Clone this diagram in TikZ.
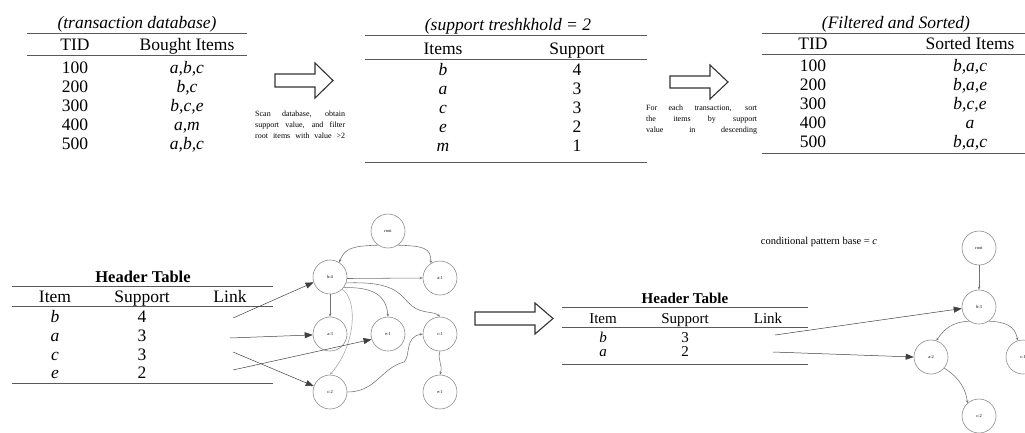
\documentclass[tikz,border=0pt]{standalone}
\usepackage{fontspec}
\setmainfont{Liberation Serif}
\usetikzlibrary{arrows.meta}
\begin{document}
\begin{tikzpicture}[x=1pt,y=-1pt,
  rule/.style={draw=black!65, line width=0.9pt},
  tb/.style={font=\fontsize{17.5}{19}\selectfont, inner sep=0pt, anchor=base},
  tbs/.style={font=\fontsize{15}{17}\selectfont, inner sep=0pt, anchor=base},
  it/.style={font=\fontsize{17.5}{19}\selectfont\itshape, inner sep=0pt, anchor=base},
  its/.style={font=\fontsize{15}{17}\selectfont\itshape, inner sep=0pt, anchor=base},
  blockarrow/.style={draw=black!80, line width=1.1pt, fill=white},
  note/.style={font=\fontsize{8}{10.8}\selectfont, inner sep=0pt, align=left, anchor=north west},
  tn/.style={circle, draw=black!45, line width=0.6pt, minimum size=34pt, inner sep=0pt, font=\fontsize{4.5}{5}\selectfont},
  te/.style={draw=black!55, line width=0.55pt, -{Stealth[length=3pt,width=2.5pt]}},
  link/.style={draw=black!75, line width=0.5pt, -{Triangle[length=8pt,width=6pt]}},
]
\useasboundingbox (0,0) rectangle (1025,432);

% ---------- Table 1 ----------
\node[it] (t1t) at (137,28) {(transaction database)};
\draw[rule] (27,33) -- (247,33);
\node[tb] (t1h1) at (75,50) {TID};
\node[tb] (t1h2) at (187,50) {Bought Items};
\draw[rule] (27,55) -- (247,55);
\node[tb] (t1r1a) at (75,73) {100};  \node[it] (t1r1b) at (187,73) {a,b,c};
\node[tb] (t1r2a) at (75,92) {200};  \node[it] (t1r2b) at (187,92) {b,c};
\node[tb] (t1r3a) at (75,111) {300}; \node[it] (t1r3b) at (187,111) {b,c,e};
\node[tb] (t1r4a) at (75,130) {400}; \node[it] (t1r4b) at (187,130) {a,m};
\node[tb] (t1r5a) at (75,149) {500}; \node[it] (t1r5b) at (187,149) {a,b,c};

% arrow 1
\draw[blockarrow] (275,74) -- (315,74) -- (315,63) -- (333,80.5) -- (315,98) -- (315,87) -- (275,87) -- cycle;
\node[note] (n1) at (255,111) {\makebox[90pt][s]{Scan database, obtain}\\
\makebox[90pt][s]{support value, and filter}\\
\makebox[90pt][s]{root items with value >2}};

% ---------- Table 2 ----------
\node[it] (t2t) at (508,30) {(support treshkhold = 2};
\draw[rule] (365,35) -- (647,35);
\node[tb] (t2h1) at (443,54) {Items};
\node[tb] (t2h2) at (577,54) {Support};
\draw[rule] (365,59) -- (647,59);
\node[it] (t2r1a) at (443,75) {b};  \node[tb] (t2r1b) at (577,75) {4};
\node[it] (t2r2a) at (443,94) {a};  \node[tb] (t2r2b) at (577,94) {3};
\node[it] (t2r3a) at (443,113) {c}; \node[tb] (t2r3b) at (577,113) {3};
\node[it] (t2r4a) at (443,132) {e}; \node[tb] (t2r4b) at (577,132) {2};
\node[it] (t2r5a) at (443,151) {m}; \node[tb] (t2r5b) at (577,151) {1};
\draw[rule] (365,162) -- (647,162);

% arrow 2
\draw[blockarrow] (670,76) -- (710,76) -- (710,65) -- (728,82) -- (710,99) -- (710,88) -- (670,88) -- cycle;
\node[note] (n2) at (646,105) {\makebox[111pt][s]{For each transaction, sort}\\
\makebox[111pt][s]{the items by support}\\
\makebox[111pt][s]{value in descending}};

% ---------- Table 3 ----------
\node[it] (t3t) at (896,28) {(Filtered and Sorted)};
\draw[rule] (762,33) -- (1025,33);
\node[tb] (t3h1) at (813,49) {TID};
\node[tb] (t3h2) at (970,49) {Sorted Items};
\draw[rule] (762,54) -- (1025,54);
\node[tb] (t3r1a) at (813,71) {100};  \node[it] (t3r1b) at (970,71) {b,a,c};
\node[tb] (t3r2a) at (813,90) {200};  \node[it] (t3r2b) at (970,90) {b,a,e};
\node[tb] (t3r3a) at (813,109) {300}; \node[it] (t3r3b) at (970,109) {b,c,e};
\node[tb] (t3r4a) at (813,128) {400}; \node[it] (t3r4b) at (970,128) {a};
\node[tb] (t3r5a) at (813,147) {500}; \node[it] (t3r5b) at (970,147) {b,a,c};
\draw[rule] (762,153) -- (1025,153);

% ---------- Header table 1 ----------
\node[tb, font=\fontsize{16.5}{19}\selectfont\bfseries] (h1t) at (143,282) {Header Table};
\draw[rule] (12,286) -- (273,286);
\node[tb] (h1c1) at (55,302) {Item};
\node[tb] (h1c2) at (142,302) {Support};
\node[tb] (h1c3) at (230,302) {Link};
\draw[rule] (12,306) -- (273,306);
\node[it] (h1r1a) at (55,322) {b};  \node[tb] (h1r1b) at (142,322) {4};
\node[it] (h1r2a) at (55,341) {a};  \node[tb] (h1r2b) at (142,341) {3};
\node[it] (h1r3a) at (55,360) {c};  \node[tb] (h1r3b) at (142,360) {3};
\node[it] (h1r4a) at (55,378) {e};  \node[tb] (h1r4b) at (142,378) {2};
\draw[rule] (12,383) -- (273,383);

% ---------- FP tree 1 ----------
\node[tn] (r)   at (388,231) {root};
\node[tn] (b4)  at (330,277) {b:4};
\node[tn] (a1)  at (440,278) {a:1};
\node[tn] (a3)  at (330,334) {a:3};
\node[tn] (e1a) at (388,334) {e:1};
\node[tn] (c1)  at (440,334) {c:1};
\node[tn] (c2)  at (330,392) {c:2};
\node[tn] (e1b) at (440,392) {e:1};

\draw[te] (r.235) .. controls (352,246) and (345,248) .. (b4.58);
\draw[te] (r.305) .. controls (424,246) and (431,248) .. (a1.122);
\draw[te] (b4.-5) -- (a1.west);
\draw[te] (b4.-20) .. controls (398,281) and (400,296) .. (412,306) .. controls (422,314) and (434,311) .. (c1.north);
\draw[te] (b4.south) -- (a3.north);
\draw[te] (b4.-38) .. controls (368,287) and (386,292) .. (e1a.north);
\draw[te, draw=black!35] (b4.-45) .. controls (358,300) and (356,345) .. (c2.north);
\draw[te] (c2.east) .. controls (376,392) and (381,368) .. (404,362) .. controls (411,356) and (404,337) .. (c1.west);
\draw[te] (c1.south) .. controls (437,360) and (443,364) .. (e1b.north);

\coordinate (Lb) at (233,318);
\coordinate (La) at (230,338);
\coordinate (Lc) at (233,352);
\coordinate (Le) at (233,370);
\draw[link] (Lb) -- (b4.198);
\draw[link] (La) -- (a3.183);
\draw[link] (Lc) -- (c2.160);
\draw[link] (Le) -- (e1a.198);

% arrow 3
\draw[blockarrow] (475,312) -- (535,312) -- (535,303) -- (553,318.5) -- (535,334) -- (535,325) -- (475,325) -- cycle;

% ---------- Header table 2 ----------
\node[tbs, font=\fontsize{15}{17}\selectfont\bfseries] (h2t) at (685,303) {Header Table};
\draw[rule] (562,307) -- (808,307);
\node[tbs] (h2c1) at (603,323) {Item};
\node[tbs] (h2c2) at (685,323) {Support};
\node[tbs] (h2c3) at (768,323) {Link};
\draw[rule] (562,327) -- (808,327);
\node[its] (h2r1a) at (603,342) {b};  \node[tbs] (h2r1b) at (685,342) {3};
\node[its] (h2r2a) at (603,356) {a};  \node[tbs] (h2r2b) at (685,356) {2};
\draw[rule] (562,364) -- (808,364);

\node[font=\fontsize{10.5}{12}\selectfont, inner sep=0pt] (cpb) at (819,242) {conditional pattern base = \textit{c}};

% ---------- FP tree 2 ----------
\node[tn] (rr)  at (979,248) {root};
\node[tn] (rb)  at (979,307) {b:3};
\node[tn] (ra)  at (931,357) {a:2};
\node[tn] (rc)  at (1023,357) {c:1};
\node[tn] (rcc) at (979,416) {c:2};

\draw[te] (rr.south) -- (rb.north);
\draw[te] (rb.235) .. controls (953,322) and (945,328) .. (ra.72);
\draw[te] (rb.305) .. controls (1006,322) and (1015,326) .. (rc.108);
\draw[te] (ra.-40) .. controls (960,378) and (966,390) .. (rcc.132);

\coordinate (Rb) at (775,335);
\coordinate (Ra) at (773,352);
\draw[link] (Rb) -- (rb.185);
\draw[link] (Ra) -- (ra.west);
\end{tikzpicture}
\end{document}
